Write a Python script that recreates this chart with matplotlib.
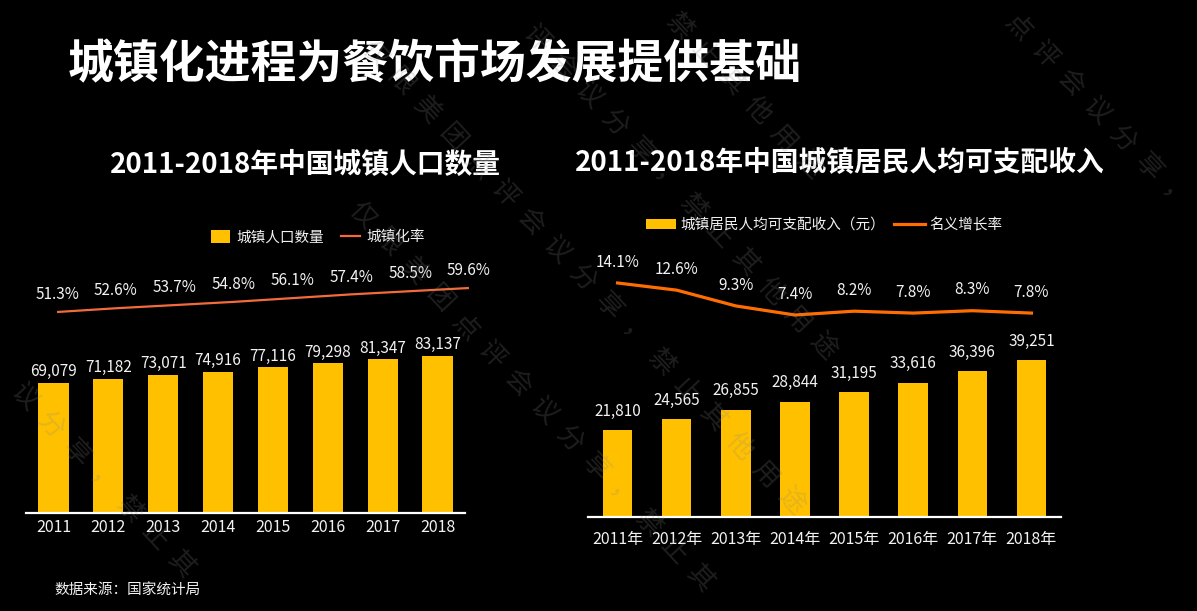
import matplotlib
matplotlib.use('Agg')
import matplotlib.pyplot as plt
from matplotlib.patches import Patch
from matplotlib.lines import Line2D

plt.rcParams['font.family'] = ['Noto Sans CJK SC', 'DejaVu Sans']

# data
years = ['2011', '2012', '2013', '2014', '2015', '2016', '2017', '2018']
years_cn = ['2011年', '2012年', '2013年', '2014年', '2015年', '2016年', '2017年', '2018年']
urban_pop = [69079, 71182, 73071, 74916, 77116, 79298, 81347, 83137]
urban_rate = [51.3, 52.6, 53.7, 54.8, 56.1, 57.4, 58.5, 59.6]
income = [21810, 24565, 26855, 28844, 31195, 33616, 36396, 39251]
income_growth = [14.1, 12.6, 9.3, 7.4, 8.2, 7.8, 8.3, 7.8]

W, H = 1197, 611
BAR = '#FFC000'
TXT = '#F2F2F2'


def rect(x0, y0, x1, y1):
    # pixel box (top-left origin) -> figure fraction
    return [x0 / W, 1 - y1 / H, (x1 - x0) / W, (y1 - y0) / H]


fig = plt.figure(figsize=(W / 100, H / 100), dpi=100, facecolor='black')

# left: urban population bars
ax1 = fig.add_axes(rect(26, 213, 465, 513))
x = range(len(years))
ax1.bar(x, urban_pop, width=0.55, color=BAR, zorder=2)
ax1.set_xlim(-0.5, 7.5)
ax1.set_ylim(0, 158860)
for i, v in enumerate(urban_pop):
    ax1.annotate(f'{v:,}', (i, v), xytext=(0, 8), textcoords='offset points',
                 ha='center', va='center', color=TXT, fontsize=11)
ax1.set_xticks(list(x), years)
ax1.tick_params(axis='x', length=0, colors=TXT, labelsize=11.5, pad=4)
ax1.set_yticks([])

# left: urbanization rate line
ax1b = fig.add_axes(rect(27.6, 250, 498.4, 330))
ax1b.plot(x, urban_rate, color='#F26B3A', lw=1.6, solid_capstyle='butt')
ax1b.set_xlim(-0.5, 7.5)
ax1b.set_ylim(45.08, 72.74)
for i, v in enumerate(urban_rate):
    ax1b.annotate(f'{v}%', (i, v), xytext=(0, 12.5), textcoords='offset points',
                  ha='center', va='center', color=TXT, fontsize=11)
ax1b.axis('off')

# right: disposable income bars
ax2 = fig.add_axes(rect(588, 217, 1061, 517))
ax2.bar(x, income, width=0.5, color=BAR, zorder=2)
ax2.set_xlim(-0.5, 7.5)
ax2.set_ylim(0, 75002)
for i, v in enumerate(income):
    ax2.annotate(f'{v:,}', (i, v), xytext=(0, 13.5), textcoords='offset points',
                 ha='center', va='center', color=TXT, fontsize=11)
ax2.set_xticks(list(x), years_cn)
ax2.tick_params(axis='x', length=0, colors=TXT, labelsize=11.5, pad=10)
ax2.set_yticks([])

# right: nominal growth line
ax2b = fig.add_axes(rect(588, 250, 1061, 340))
ax2b.plot(x, income_growth, color='#FF6D00', lw=2.3, solid_joinstyle='round')
ax2b.set_xlim(-0.5, 7.5)
ax2b.set_ylim(2.17, 21.0)
for i, v in enumerate(income_growth):
    ax2b.annotate(f'{v}%', (i, v), xytext=(0, 15), textcoords='offset points',
                  ha='center', va='center', color=TXT, fontsize=11)
ax2b.axis('off')

for ax in (ax1, ax2):
    ax.set_facecolor('none')
    for s in ('top', 'left', 'right'):
        ax.spines[s].set_visible(False)
    ax.spines['bottom'].set_color('white')
    ax.spines['bottom'].set_linewidth(1.6)
for ax in (ax1b, ax2b):
    ax.set_facecolor('none')

# legends
h1 = [Patch(facecolor=BAR, edgecolor='none', label='城镇人口数量'),
      Line2D([], [], color='#F26B3A', lw=1.6, label='城镇化率')]
fig.legend(handles=h1, loc='center', bbox_to_anchor=(318 / W, 1 - 237 / H),
           ncol=2, frameon=False, fontsize=10.5, labelcolor=TXT,
           handlelength=1.3, handleheight=1.0, handletextpad=0.4, columnspacing=1.2)
h2 = [Patch(facecolor=BAR, edgecolor='none', label='城镇居民人均可支配收入（元）'),
      Line2D([], [], color='#FF6D00', lw=2.3, label='名义增长率')]
fig.legend(handles=h2, loc='center', bbox_to_anchor=(824 / W, 1 - 225 / H),
           ncol=2, frameon=False, fontsize=10.5, labelcolor=TXT,
           handlelength=2.1, handleheight=0.6, handletextpad=0.3, columnspacing=0.6)

# titles
fig.text(68 / W, 1 - 65 / H, '城镇化进程为餐饮市场发展提供基础', color='white',
         fontsize=33, fontweight='bold', va='center', ha='left')
fig.text(305 / W, 1 - 165 / H, '2011-2018年中国城镇人口数量', color='white',
         fontsize=20, fontweight='bold', va='center', ha='center')
fig.text(840 / W, 1 - 163 / H, '2011-2018年中国城镇居民人均可支配收入', color='white',
         fontsize=20, fontweight='bold', va='center', ha='center')
fig.text(54 / W, 1 - 591 / H, '数据来源：国家统计局', color=TXT,
         fontsize=10.5, va='center', ha='left')

# faint diagonal watermark (only characters that fit fully inside the picture)
wm = '仅限美团点评会议分享，禁止其他用途'
wm_starts = [(393, -282), (407, -101), (375, 54), (362, 215), (915, -85), (-157, 201)]
for sx, sy in wm_starts:
    for k, ch in enumerate(wm):
        px, py = sx + 26 * k, sy + 28 * k
        if 20 < px < W - 20 and 20 < py < H - 20:
            fig.text(px / W, 1 - py / H, ch, color='#8a8a8a', alpha=0.22,
                     fontsize=19, rotation=-47, ha='center', va='center',
                     rotation_mode='anchor', zorder=10)

fig.savefig('out.png', dpi=100, facecolor='black')
